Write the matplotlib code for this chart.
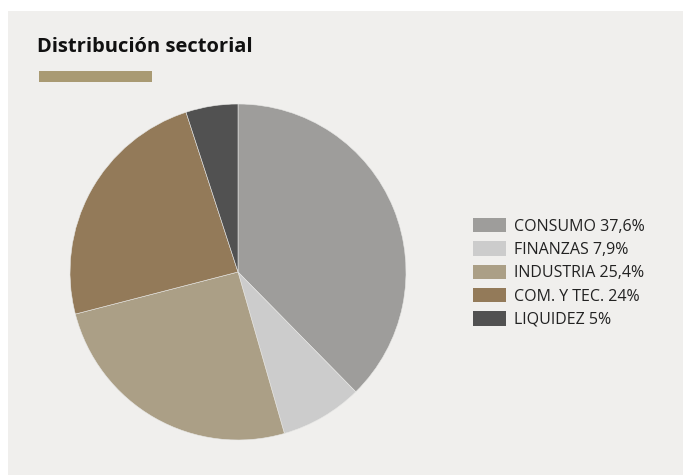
import matplotlib.pyplot as plt
from matplotlib.patches import Rectangle, Patch

labels = ['CONSUMO 37,6%', 'FINANZAS 7,9%', 'INDUSTRIA 25,4%', 'COM. Y TEC. 24%', 'LIQUIDEZ 5%']
values = [37.6, 7.9, 25.4, 24, 5]
colors = ['#9e9d9b', '#cccccc', '#ab9f86', '#937a59', '#515151']

plt.rcParams['font.family'] = ['Open Sans', 'DejaVu Sans']

W, H = 685, 475
fig = plt.figure(figsize=(W / 100, H / 100), dpi=100)
fig.patch.set_facecolor('white')

# panel de fondo
fig.patches.append(Rectangle((8 / W, 0), (683 - 8) / W, (H - 11) / H,
                             transform=fig.transFigure, facecolor='#f0efed',
                             edgecolor='none', zorder=-1))

fig.text(37 / W, 1 - 52 / H, 'Distribución sectorial', fontsize=14.5,
         fontweight='bold', color='#111111', va='baseline')
fig.patches.append(Rectangle((39 / W, 1 - 82 / H), 113 / W, 11 / H,
                             transform=fig.transFigure, facecolor='#a99a73',
                             edgecolor='none'))

cx, cy, r = 238, 272, 168
ax = fig.add_axes([(cx - r) / W, (H - cy - r) / H, 2 * r / W, 2 * r / H])
ax.pie(values, colors=colors, startangle=90, counterclock=False,
       wedgeprops=dict(edgecolor='#e8e8e6', linewidth=0.4))
ax.set_xlim(-1, 1)
ax.set_ylim(-1, 1)
ax.set_aspect('equal')
ax.axis('off')

handles = [Patch(facecolor=c, edgecolor='none') for c in colors]
leg = fig.legend(handles, labels, loc='upper left',
                 bbox_to_anchor=(473 / W, 1 - 218 / H), frameon=False,
                 fontsize=11.5, handlelength=2.05, handleheight=1.0,
                 handletextpad=0.5, labelspacing=0.42, borderpad=0,
                 borderaxespad=0)
for t in leg.get_texts():
    t.set_color('#222222')

fig.savefig('out.png', dpi=100)
